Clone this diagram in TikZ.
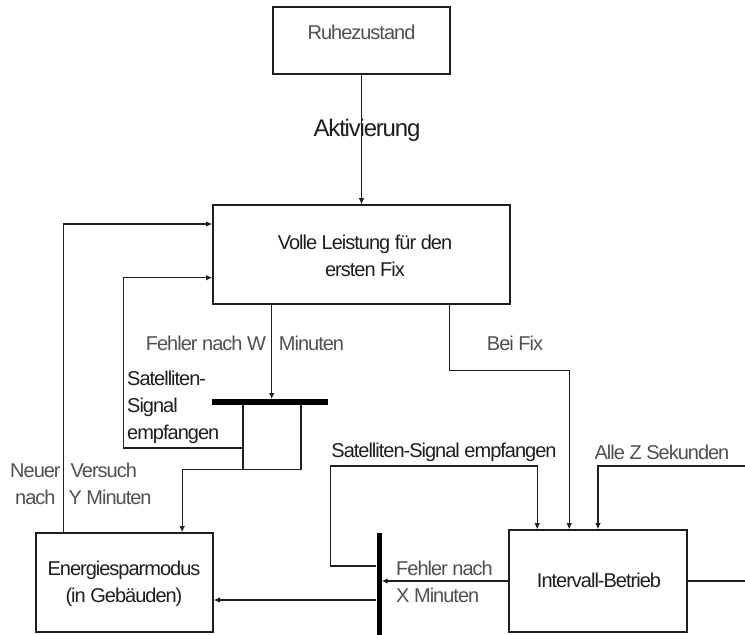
\documentclass[tikz,border=0pt]{standalone}
\usepackage{fontspec}
\setmainfont{Liberation Sans}[LetterSpace=-5]
\usetikzlibrary{arrows.meta,calc}
\definecolor{lbl}{HTML}{505050}
\definecolor{ink}{HTML}{1E1E1E}
\tikzset{
  box/.style={draw=ink, line width=1.6pt, rectangle, inner sep=0pt},
  boxtext/.style={text=ink, font=\fontsize{20}{27}\selectfont, align=center, inner sep=0pt},
  graylbl/.style={text=lbl, font=\fontsize{20}{27}\selectfont, inner sep=0pt},
  darklbl/.style={text=ink, font=\fontsize{20}{27}\selectfont, inner sep=0pt},
  conn/.style={draw=ink, line width=1.3pt},
  arr/.style={conn, -{Latex[length=6pt,width=5.5pt]}},
  barh/.style={fill=black, rectangle, inner sep=0pt}
}
\begin{document}
\begin{tikzpicture}[x=1pt,y=-1pt]
\useasboundingbox (0,0) rectangle (745,635);
\fill[white] (0,0) rectangle (745,635);

% boxes
\node[box, minimum width=177pt, minimum height=67pt] (ruhe) at (361.5,40.5) {};
\node[graylbl] (ruhetxt) at (361.5,32) {Ruhezustand};
\node[box, minimum width=297pt, minimum height=99pt] (volle) at (361.5,254.5) {};
\node[boxtext] (volletxt) at (365,256) {Volle Leistung für den\\ersten Fix};
\node[box, minimum width=177pt, minimum height=99pt] (energie) at (124.5,582.5) {};
\node[boxtext] (energietxt) at (124,584) {Energiesparmodus\\(in Gebäuden)};
\node[box, minimum width=178pt, minimum height=102pt] (intervall) at (598,581) {};
\node[boxtext] (intervalltxt) at (599,580) {Intervall-Betrieb};

% bars
\node[barh, minimum width=116pt, minimum height=5.5pt] (bar1) at (270,402) {};
\node[barh, minimum width=5pt, minimum height=108pt] (bar2) at (379,587) {};

% Aktivierung
\draw[arr] (ruhe.south) -- (volle.north);
\node[text=ink, font=\fontsize{24}{28}\selectfont, inner sep=0pt] (akt) at (367,130) {Aktivierung};

% Neuer Versuch
\coordinate (nv) at ($(energie.north west)+(28,0)$);
\draw[arr] (nv) |- ($(volle.west)+(0,-30.5)$);
\node[graylbl, align=left, anchor=west] (nvl) at (10,484)
  {Neuer\hspace{10pt}Versuch\\\hspace*{5pt}nach\hspace{13pt}Y Minuten};

% Fehler nach W Minuten
\coordinate (fw) at ($(volle.south west)+(59.5,0)$);
\draw[arr] (fw) -- (fw |- bar1.north);
\node[graylbl] (fwl) at (245,343) {Fehler nach W\hspace{13pt}Minuten};

% outputs of bar1
\coordinate (b1l) at ($(bar1.south)+(-27,0)$);
\coordinate (b1r) at ($(bar1.south)+(31,0)$);
\draw[conn] (b1l) -- ++(0,64.5) -| (b1r);
\draw[arr] ($(b1l)+(0,43)$) -| ($(volle.west)+(-89,23.2)$) -- ($(volle.west)+(0,23.2)$);
\draw[arr] ($(b1l)+(0,64.5)$) -| ($(energie.north west)+(147,0)$);
\node[darklbl, align=left, anchor=west] (sat1) at (127,407) {Satelliten-\\Signal\\empfangen};

% Bei Fix
\coordinate (bf) at ($(volle.south west)+(237,0)$);
\draw[arr] (bf) -- ++(0,66) -| ($(intervall.north west)+(61,0)$);
\node[graylbl] (bfl) at (515,343) {Bei Fix};

% Satelliten-Signal empfangen (loop 2)
\draw[arr] ($(bar2.west)+(0,-21)$) -| ($(bar2.west)+(-45.5,-121)$) -| ($(intervall.north west)+(29,0)$);
\node[darklbl] (sat2) at (444,452) {Satelliten-Signal empfangen};

% Alle Z Sekunden
\coordinate (azs) at (745,466);
\draw[arr] (azs) -| (intervall.north);
\node[graylbl] (azl) at (662,452) {Alle Z Sekunden};

% Intervall right output
\coordinate (iout) at (745,581);
\draw[conn] (intervall.east) -- (intervall.east -| iout);

% Fehler nach X Minuten
\draw[arr] (intervall.west) -- (intervall.west -| bar2.east);
\node[graylbl, align=left, anchor=west] (fxl) at (396,581.5) {Fehler nach\\X Minuten};

% bar2 to Energiesparmodus
\coordinate (eout) at ($(energie.east)+(0,17.5)$);
\draw[arr] (bar2.west |- eout) -- (eout);
\end{tikzpicture}
\end{document}
